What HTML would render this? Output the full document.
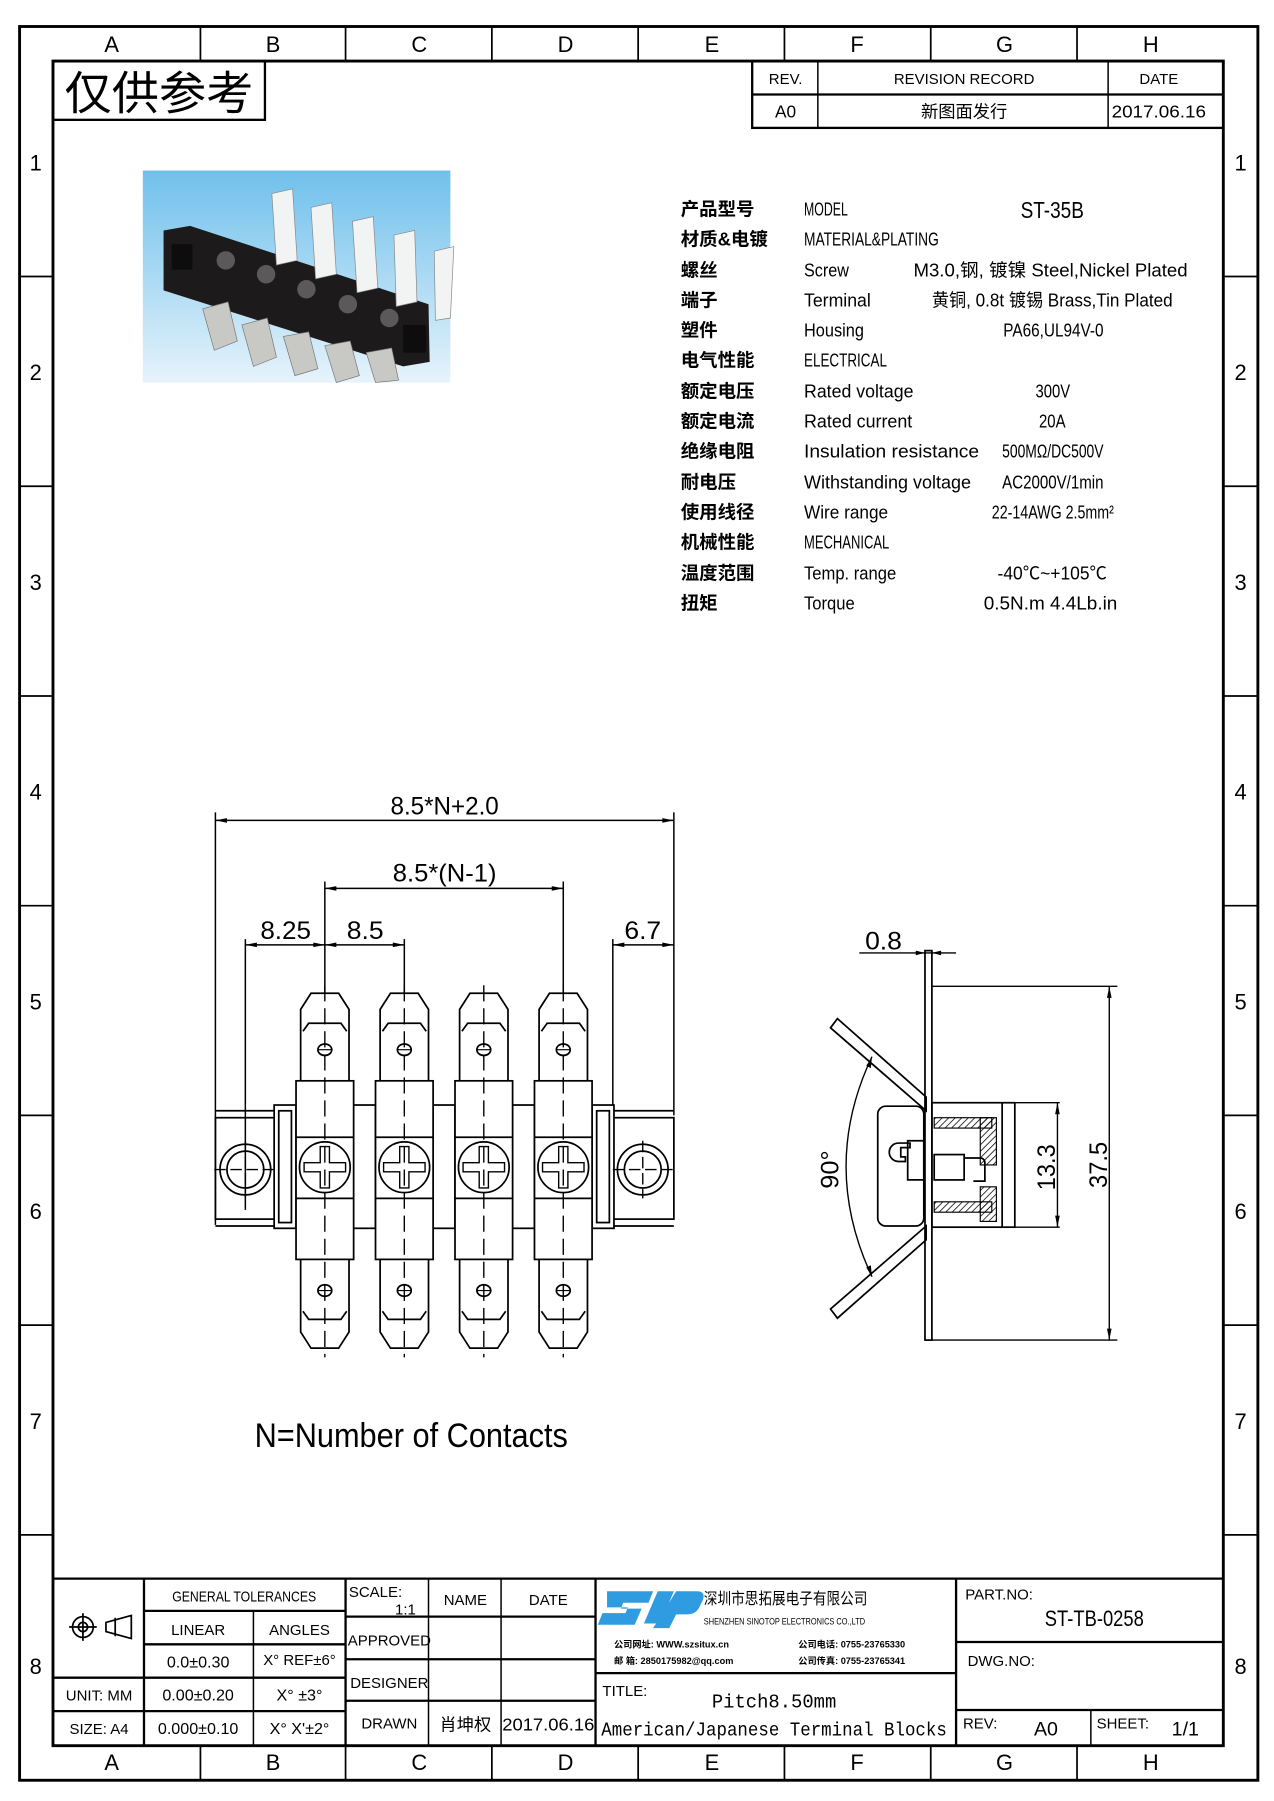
<!DOCTYPE html>
<html><head><meta charset="utf-8"><style>
html,body{margin:0;padding:0;background:#fff;}
svg{display:block;}
text{font-family:"Liberation Sans Narrow","Liberation Sans","Noto Sans CJK SC",sans-serif;fill:#000;}
.m{font-family:"Liberation Mono","Noto Sans CJK SC",monospace;}
.cj{font-family:"Noto Sans CJK SC","WenQuanYi Zen Hei",sans-serif;font-weight:bold;}
</style></head><body>
<svg width="1274" height="1801" viewBox="0 0 1106 1563" preserveAspectRatio="none" xmlns="http://www.w3.org/2000/svg">
<defs>
<pattern id="h" width="4" height="4" patternUnits="userSpaceOnUse" patternTransform="rotate(45)"><line x1="0" y1="0" x2="0" y2="4" stroke="#000" stroke-width="1.3"/></pattern>
<linearGradient id="sky" x1="0" y1="0" x2="0" y2="1"><stop offset="0" stop-color="#6fc0ec"/><stop offset="1" stop-color="#e6f3fb"/></linearGradient>
</defs>
<!-- frames -->
<rect x="17" y="23" width="1075" height="1522" fill="none" stroke="#000" stroke-width="2.5"/>
<rect x="46" y="53" width="1016" height="1462" fill="none" stroke="#000" stroke-width="2.5"/>
<g stroke="#000" stroke-width="1.5">
<line x1="174" y1="23" x2="174" y2="53"/><line x1="300" y1="23" x2="300" y2="53"/><line x1="427" y1="23" x2="427" y2="53"/><line x1="554" y1="23" x2="554" y2="53"/><line x1="681" y1="23" x2="681" y2="53"/><line x1="808" y1="23" x2="808" y2="53"/><line x1="935" y1="23" x2="935" y2="53"/>
<line x1="174" y1="1515" x2="174" y2="1545"/><line x1="300" y1="1515" x2="300" y2="1545"/><line x1="427" y1="1515" x2="427" y2="1545"/><line x1="554" y1="1515" x2="554" y2="1545"/><line x1="681" y1="1515" x2="681" y2="1545"/><line x1="808" y1="1515" x2="808" y2="1545"/><line x1="935" y1="1515" x2="935" y2="1545"/>
<line x1="17" y1="240" x2="46" y2="240"/><line x1="17" y1="422" x2="46" y2="422"/><line x1="17" y1="604" x2="46" y2="604"/><line x1="17" y1="786" x2="46" y2="786"/><line x1="17" y1="968" x2="46" y2="968"/><line x1="17" y1="1150" x2="46" y2="1150"/><line x1="17" y1="1332" x2="46" y2="1332"/>
<line x1="1062" y1="240" x2="1092" y2="240"/><line x1="1062" y1="422" x2="1092" y2="422"/><line x1="1062" y1="604" x2="1092" y2="604"/><line x1="1062" y1="786" x2="1092" y2="786"/><line x1="1062" y1="968" x2="1092" y2="968"/><line x1="1062" y1="1150" x2="1092" y2="1150"/><line x1="1062" y1="1332" x2="1092" y2="1332"/>
</g>
<g font-size="19" text-anchor="middle">
<text x="97" y="45">A</text><text x="237" y="45">B</text><text x="364" y="45">C</text><text x="491" y="45">D</text><text x="618" y="45">E</text><text x="744" y="45">F</text><text x="872" y="45">G</text><text x="999" y="45">H</text>
<text x="97" y="1536">A</text><text x="237" y="1536">B</text><text x="364" y="1536">C</text><text x="491" y="1536">D</text><text x="618" y="1536">E</text><text x="744" y="1536">F</text><text x="872" y="1536">G</text><text x="999" y="1536">H</text>
<text x="31" y="148">1</text><text x="31" y="330">2</text><text x="31" y="512">3</text><text x="31" y="694">4</text><text x="31" y="876">5</text><text x="31" y="1058">6</text><text x="31" y="1240">7</text><text x="31" y="1453">8</text>
<text x="1077" y="148">1</text><text x="1077" y="330">2</text><text x="1077" y="512">3</text><text x="1077" y="694">4</text><text x="1077" y="876">5</text><text x="1077" y="1058">6</text><text x="1077" y="1240">7</text><text x="1077" y="1453">8</text>
</g>
<!-- stamp -->
<rect x="46" y="53" width="184" height="51" fill="none" stroke="#000" stroke-width="2"/>
<text x="56" y="95" font-size="40" class="cj" style="font-weight:normal" textLength="164" lengthAdjust="spacingAndGlyphs">仅供参考</text>
<!-- revision -->
<g stroke="#000" fill="none" stroke-width="2"><rect x="653" y="53" width="409" height="58"/><line x1="653" y1="82" x2="1062" y2="82"/></g>
<g stroke="#000" stroke-width="1.3"><line x1="710" y1="53" x2="710" y2="111"/><line x1="962" y1="53" x2="962" y2="111"/></g>
<g font-size="13" text-anchor="middle"><text x="682" y="73">REV.</text><text x="837" y="73">REVISION RECORD</text><text x="1006" y="73">DATE</text>
<text x="682" y="102" font-size="15">A0</text><text x="837" y="102" font-size="15" class="cj" style="font-weight:normal">新图面发行</text><text x="1006" y="102" font-size="15" textLength="82" lengthAdjust="spacingAndGlyphs">2017.06.16</text></g>
<!-- photo -->
<rect x="124" y="148" width="267" height="184" fill="url(#sky)"/>
<polygon points="142,200 165,196 372,264 373,314 350,318 142,252" fill="#1c1a1a"/>
<g fill="#c8c8c4" stroke="#777" stroke-width="0.6">
<polygon points="176,268 198,262 206,296 186,304"/><polygon points="210,282 232,276 240,310 220,318"/><polygon points="246,292 268,288 276,320 256,326"/><polygon points="282,300 304,296 312,326 292,332"/><polygon points="318,306 340,302 346,330 326,332"/>
</g>
<g fill="#f2f4f4" stroke="#888" stroke-width="0.6">
<polygon points="236,168 254,164 258,226 240,230"/><polygon points="270,180 288,176 292,238 274,242"/><polygon points="306,192 324,188 328,250 310,254"/><polygon points="342,204 360,200 362,262 344,266"/><polygon points="377,218 394,214 391,276 378,278"/>
</g>
<g fill="#5a5a5a"><circle cx="231" cy="238" r="8"/><circle cx="266" cy="251" r="8"/><circle cx="302" cy="264" r="8"/><circle cx="338" cy="276" r="8"/><circle cx="196" cy="226" r="8"/></g>
<rect x="149" y="212" width="18" height="22" fill="#0d0d0d"/><rect x="350" y="282" width="20" height="24" fill="#0d0d0d"/>
<!-- specs -->
<g font-size="16" class="cj" style="font-weight:bold">
<text x="591" y="187">产品型号</text><text x="591" y="213">材质&amp;电镀</text><text x="591" y="240">螺丝</text><text x="591" y="266">端子</text><text x="591" y="292">塑件</text><text x="591" y="318">电气性能</text><text x="591" y="345">额定电压</text><text x="591" y="371">额定电流</text><text x="591" y="397">绝缘电阻</text><text x="591" y="424">耐电压</text><text x="591" y="450">使用线径</text><text x="591" y="476">机械性能</text><text x="591" y="503">温度范围</text><text x="591" y="529">扭矩</text>
</g>
<g font-size="16">
<text x="698" y="187" textLength="38" lengthAdjust="spacingAndGlyphs">MODEL</text>
<text x="886" y="189" font-size="20" textLength="55" lengthAdjust="spacingAndGlyphs">ST-35B</text>
<text x="698" y="213" textLength="117" lengthAdjust="spacingAndGlyphs">MATERIAL&amp;PLATING</text>
<text x="698" y="240" textLength="39" lengthAdjust="spacingAndGlyphs">Screw</text>
<text x="793" y="240" textLength="238" lengthAdjust="spacingAndGlyphs">M3.0,钢, 镀镍 Steel,Nickel Plated</text>
<text x="698" y="266" textLength="58" lengthAdjust="spacingAndGlyphs">Terminal</text>
<text x="809" y="266" textLength="209" lengthAdjust="spacingAndGlyphs">黄铜, 0.8t 镀锡 Brass,Tin Plated</text>
<text x="698" y="292" textLength="52" lengthAdjust="spacingAndGlyphs">Housing</text>
<text x="871" y="292" textLength="87" lengthAdjust="spacingAndGlyphs">PA66,UL94V-0</text>
<text x="698" y="318" textLength="72" lengthAdjust="spacingAndGlyphs">ELECTRICAL</text>
<text x="698" y="345" textLength="95" lengthAdjust="spacingAndGlyphs">Rated voltage</text>
<text x="899" y="345" textLength="30" lengthAdjust="spacingAndGlyphs">300V</text>
<text x="698" y="371" textLength="94" lengthAdjust="spacingAndGlyphs">Rated current</text>
<text x="902" y="371" textLength="23" lengthAdjust="spacingAndGlyphs">20A</text>
<text x="698" y="397" textLength="152" lengthAdjust="spacingAndGlyphs">Insulation resistance</text>
<text x="870" y="397" textLength="88" lengthAdjust="spacingAndGlyphs">500MΩ/DC500V</text>
<text x="698" y="424" textLength="145" lengthAdjust="spacingAndGlyphs">Withstanding voltage</text>
<text x="870" y="424" textLength="88" lengthAdjust="spacingAndGlyphs">AC2000V/1min</text>
<text x="698" y="450" textLength="73" lengthAdjust="spacingAndGlyphs">Wire range</text>
<text x="861" y="450" textLength="106" lengthAdjust="spacingAndGlyphs">22-14AWG 2.5mm²</text>
<text x="698" y="476" textLength="74" lengthAdjust="spacingAndGlyphs">MECHANICAL</text>
<text x="698" y="503" textLength="80" lengthAdjust="spacingAndGlyphs">Temp. range</text>
<text x="866" y="503" textLength="95" lengthAdjust="spacingAndGlyphs">-40℃~+105℃</text>
<text x="698" y="529" textLength="44" lengthAdjust="spacingAndGlyphs">Torque</text>
<text x="854" y="529" textLength="116" lengthAdjust="spacingAndGlyphs">0.5N.m  4.4Lb.in</text>
</g>
<!-- front view dims -->
<g stroke="#000" stroke-width="1.3" fill="none">
<line x1="187" y1="705" x2="187" y2="1063"/><line x1="585" y1="705" x2="585" y2="968"/>
<line x1="187" y1="712" x2="585" y2="712"/>
<line x1="282" y1="765" x2="282" y2="862"/><line x1="489" y1="765" x2="489" y2="862"/>
<line x1="282" y1="771" x2="489" y2="771"/>
<line x1="213" y1="815" x2="213" y2="1050"/><line x1="351" y1="815" x2="351" y2="862"/><line x1="532" y1="815" x2="532" y2="968"/>
<line x1="213" y1="820" x2="351" y2="820"/><line x1="532" y1="820" x2="585" y2="820"/>
</g>
<g fill="#000">
<polygon points="187,712 197,710 197,714"/><polygon points="585,712 575,710 575,714"/>
<polygon points="282,771 292,769 292,773"/><polygon points="489,771 479,769 479,773"/>
<polygon points="213,820 223,818 223,822"/><polygon points="282,820 272,818 272,822"/><polygon points="282,820 292,818 292,822"/><polygon points="351,820 341,818 341,822"/>
<polygon points="532,820 542,818 542,822"/><polygon points="585,820 575,818 575,822"/>
</g>
<g font-size="22" text-anchor="middle">
<text x="386" y="707" textLength="94" lengthAdjust="spacingAndGlyphs">8.5*N+2.0</text>
<text x="386" y="765" textLength="90" lengthAdjust="spacingAndGlyphs">8.5*(N-1)</text>
<text x="248" y="815" textLength="44" lengthAdjust="spacingAndGlyphs">8.25</text>
<text x="317" y="815" textLength="32" lengthAdjust="spacingAndGlyphs">8.5</text>
<text x="558" y="815" textLength="32" lengthAdjust="spacingAndGlyphs">6.7</text>
</g>
<!-- base strip -->
<g stroke="#000" stroke-width="1.5" fill="none">
<rect x="187" y="970" width="398" height="88"/>
<line x1="187" y1="964" x2="585" y2="964"/><line x1="187" y1="1064" x2="585" y2="1064"/>
<rect x="238" y="959" width="19" height="107" fill="#fff"/><rect x="242" y="964" width="11" height="97"/>
<rect x="307" y="959" width="19" height="107" fill="#fff"/><rect x="376" y="959" width="19" height="107" fill="#fff"/><rect x="445" y="959" width="19" height="107" fill="#fff"/>
<rect x="514" y="959" width="19" height="107" fill="#fff"/><rect x="518" y="964" width="11" height="97"/>
<circle cx="213" cy="1015" r="22"/><circle cx="213" cy="1015" r="16"/>
<circle cx="558" cy="1015" r="22"/><circle cx="558" cy="1015" r="16"/>
</g>
<g id="t" stroke="#000" stroke-width="1.5" fill="#fff">
<polygon points="270,862 294,862 303,876 303,938 261,938 261,876"/>
<polyline points="263,895 268,888 296,888 301,895" fill="none"/>
<ellipse cx="282" cy="911" rx="6" ry="5" fill="none"/><line x1="276" y1="911" x2="288" y2="911" stroke-width="1"/>
<rect x="257" y="938" width="50" height="155"/>
<line x1="257" y1="987" x2="307" y2="987"/><line x1="257" y1="1040" x2="307" y2="1040"/>
<circle cx="282" cy="1013" r="22" fill="none"/>
<path d="M278,995 h8 v14 h14 v8 h-14 v14 h-8 v-14 h-14 v-8 h14 z" fill="none" stroke-width="1.2"/>
<polygon points="261,1093 303,1093 303,1156 294,1170 270,1170 261,1156"/>
<polyline points="263,1138 268,1145 296,1145 301,1138" fill="none"/>
<ellipse cx="282" cy="1120" rx="6" ry="5" fill="none"/><line x1="276" y1="1120" x2="288" y2="1120" stroke-width="1"/>
<line x1="282" y1="855" x2="282" y2="1178" stroke-dasharray="14,6" stroke-width="1.2"/>
</g>
<use href="#t" x="69"/><use href="#t" x="138"/><use href="#t" x="207"/>
<g stroke="#000" stroke-width="1.2" stroke-dasharray="10,4"><line x1="186" y1="1015" x2="240" y2="1015"/><line x1="532" y1="1015" x2="586" y2="1015"/><line x1="213" y1="990" x2="213" y2="1040"/><line x1="558" y1="990" x2="558" y2="1040"/></g>
<text x="357" y="1256" font-size="30" text-anchor="middle" textLength="272" lengthAdjust="spacingAndGlyphs">N=Number of Contacts</text>
<!-- side view -->
<g stroke="#000" stroke-width="1.5" fill="none">
<rect x="803" y="825" width="6" height="338"/>
<line x1="746" y1="827" x2="830" y2="827" stroke-width="1.2"/>
<line x1="809" y1="856" x2="970" y2="856" stroke-width="1.2"/><line x1="809" y1="1163" x2="970" y2="1163" stroke-width="1.2"/>
<line x1="963" y1="856" x2="963" y2="1163" stroke-width="1.2"/>
<polygon points="721,892 727,884 804,952 804,964"/>
<polygon points="721,1136 727,1144 804,1076 804,1064"/>
<path d="M757,917 Q712,1012 757,1108" stroke-width="1.2"/>
<rect x="762" y="960" width="40" height="104" rx="7"/>
<path d="M790,992 h-10 a8,8 0 0 0 0,16 h6 v-4 h-4 v-8 h8 z"/>
<path d="M788,990 h14 v34 h-14 z"/>
<rect x="809" y="957" width="72" height="108"/>
<line x1="870" y1="957" x2="870" y2="1065"/>
<rect x="811" y="1002" width="26" height="22"/>
<path d="M837,1005 h14 a4,4 0 0 1 4,4 v16 h-10"/>
<line x1="875" y1="957" x2="920" y2="957" stroke-width="1.2"/><line x1="875" y1="1065" x2="920" y2="1065" stroke-width="1.2"/>
<line x1="918" y1="957" x2="918" y2="1065" stroke-width="1.2"/>
</g>
<g fill="url(#h)" stroke="#000" stroke-width="1">
<rect x="811" y="970" width="50" height="9"/><rect x="851" y="970" width="14" height="41"/>
<rect x="811" y="1043" width="50" height="9"/><rect x="851" y="1030" width="14" height="30"/>
</g>
<g fill="#000">
<polygon points="803,827 795,825 795,829"/><polygon points="809,827 817,825 817,829"/>
<polygon points="963,856 961,866 965,866"/><polygon points="963,1163 961,1153 965,1153"/>
<polygon points="918,957 916,967 920,967"/><polygon points="918,1065 916,1055 920,1055"/>
<polygon points="757,917 752,925 756,927"/><polygon points="757,1108 752,1100 756,1098"/>
</g>
<text x="767" y="824" font-size="22" text-anchor="middle" textLength="32" lengthAdjust="spacingAndGlyphs">0.8</text>
<text transform="translate(728,1015) rotate(-90)" font-size="22" text-anchor="middle">90°</text>
<text transform="translate(916,1013) rotate(-90)" font-size="22" text-anchor="middle" textLength="40" lengthAdjust="spacingAndGlyphs">13.3</text>
<text transform="translate(961,1011) rotate(-90)" font-size="22" text-anchor="middle" textLength="40" lengthAdjust="spacingAndGlyphs">37.5</text>
<!-- title block -->
<g stroke="#000" stroke-width="2" fill="none">
<line x1="46" y1="1370" x2="1062" y2="1370"/>
<line x1="125" y1="1370" x2="125" y2="1515"/><line x1="300" y1="1370" x2="300" y2="1515"/><line x1="517" y1="1370" x2="517" y2="1515"/><line x1="830" y1="1370" x2="830" y2="1515"/>
<line x1="46" y1="1456" x2="300" y2="1456"/><line x1="46" y1="1485" x2="300" y2="1485"/>
<line x1="125" y1="1398" x2="300" y2="1398"/><line x1="125" y1="1427" x2="300" y2="1427"/>
<line x1="517" y1="1452" x2="830" y2="1452"/>
<line x1="830" y1="1425" x2="1062" y2="1425"/><line x1="830" y1="1484" x2="1062" y2="1484"/>
<line x1="300" y1="1403" x2="517" y2="1403"/><line x1="300" y1="1440" x2="517" y2="1440"/><line x1="300" y1="1476" x2="517" y2="1476"/>
</g>
<g stroke="#000" stroke-width="1.3"><line x1="220" y1="1398" x2="220" y2="1515"/><line x1="372" y1="1370" x2="372" y2="1515"/><line x1="435" y1="1370" x2="435" y2="1515"/><line x1="947" y1="1484" x2="947" y2="1515"/></g>
<g stroke="#000" stroke-width="1.5" fill="none"><circle cx="72" cy="1412" r="9"/><circle cx="72" cy="1412" r="4"/><line x1="60" y1="1412" x2="84" y2="1412"/><line x1="72" y1="1400" x2="72" y2="1424"/><polygon points="92,1408 114,1402 114,1422 92,1416"/><line x1="100" y1="1404" x2="100" y2="1420"/></g>
<g font-size="13" text-anchor="middle">
<text x="212" y="1390" textLength="125" lengthAdjust="spacingAndGlyphs">GENERAL TOLERANCES</text>
<text x="172" y="1419">LINEAR</text><text x="260" y="1419">ANGLES</text>
<text x="172" y="1447" font-size="14">0.0±0.30</text><text x="260" y="1445" font-size="13">X° REF±6°</text>
<text x="86" y="1476">UNIT: MM</text><text x="172" y="1476" font-size="14">0.00±0.20</text><text x="260" y="1476" font-size="14">X° ±3°</text>
<text x="86" y="1505">SIZE: A4</text><text x="172" y="1505" font-size="14">0.000±0.10</text><text x="260" y="1505" font-size="14">X° X'±2°</text>
<text x="326" y="1386">SCALE:</text><text x="352" y="1401">1:1</text>
<text x="404" y="1393">NAME</text><text x="476" y="1393">DATE</text>
<text x="338" y="1428">APPROVED</text><text x="338" y="1465">DESIGNER</text><text x="338" y="1500">DRAWN</text>
<text x="404" y="1502" font-size="15" class="cj" style="font-weight:normal">肖坤权</text>
<text x="476" y="1502" font-size="15" textLength="80" lengthAdjust="spacingAndGlyphs">2017.06.16</text>
</g>
<g transform="translate(521,1377)">
<path d="M6,4 h40 l-4,10 h-22 l-2,5 h18 l-6,14 h-32 l4,-10 h20 l2,-5 h-18 z M50,4 h14 l-12,28 h-14 z M66,4 h18 q8,0 5,8 l-3,6 q-3,6 -10,6 h-10 l-6,12 h-14 z" fill="#2f9be0"/>
</g>
<text x="611" y="1392" font-size="14" class="cj" style="font-weight:normal" textLength="142" lengthAdjust="spacingAndGlyphs">深圳市思拓展电子有限公司</text>
<text x="611" y="1410" font-size="8" textLength="140" lengthAdjust="spacingAndGlyphs">SHENZHEN SINOTOP ELECTRONICS CO.,LTD</text>
<g font-size="8" font-weight="bold"><text x="533" y="1430">公司网址: WWW.szsitux.cn</text><text x="533" y="1444">邮    箱: 2850175982@qq.com</text><text x="693" y="1430">公司电话: 0755-23765330</text><text x="693" y="1444">公司传真: 0755-23765341</text></g>
<text x="523" y="1472" font-size="13">TITLE:</text>
<text x="672" y="1482" font-size="17" text-anchor="middle" class="m" textLength="108" lengthAdjust="spacingAndGlyphs">Pitch8.50mm</text>
<text x="672" y="1506" font-size="17" text-anchor="middle" class="m" textLength="300" lengthAdjust="spacingAndGlyphs">American/Japanese Terminal Blocks</text>
<text x="838" y="1388" font-size="13">PART.NO:</text>
<text x="950" y="1411" font-size="19" text-anchor="middle" textLength="86" lengthAdjust="spacingAndGlyphs">ST-TB-0258</text>
<text x="840" y="1446" font-size="13">DWG.NO:</text>
<text x="836" y="1500" font-size="13">REV:</text><text x="908" y="1506" font-size="17" text-anchor="middle">A0</text>
<text x="952" y="1500" font-size="13">SHEET:</text><text x="1029" y="1506" font-size="17" text-anchor="middle">1/1</text>
</svg>
</body></html>
